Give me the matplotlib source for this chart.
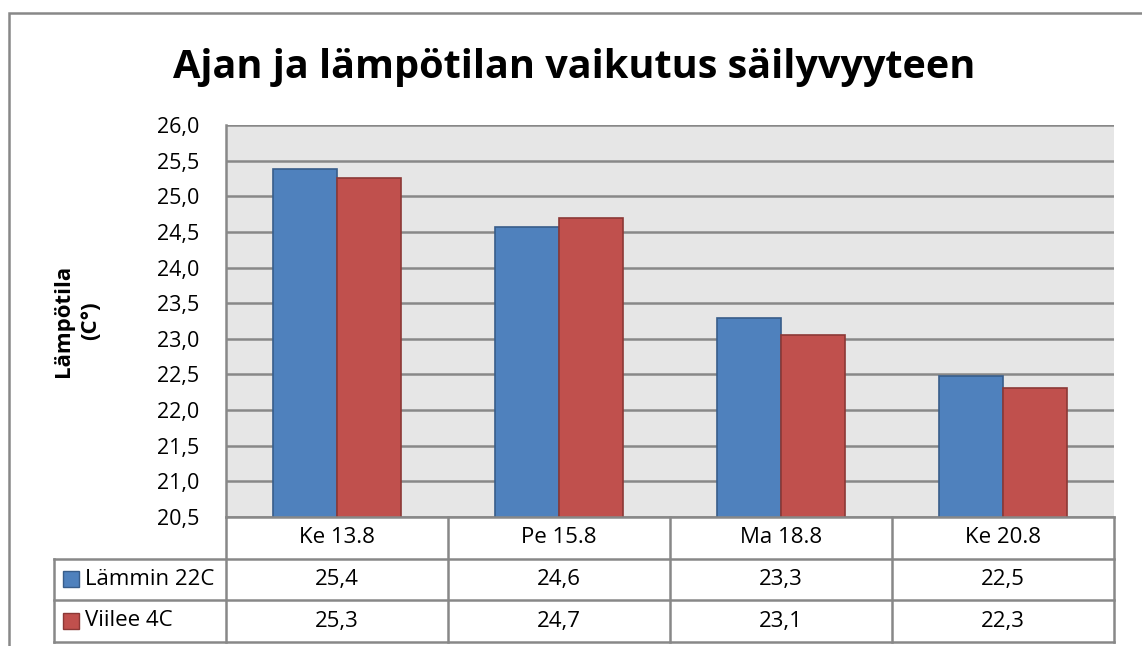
import numpy as np
import matplotlib.pyplot as plt
from matplotlib.patches import Rectangle

plt.rcParams['font.family'] = ['Open Sans', 'DejaVu Sans']

# data
categories = ["Ke 13.8", "Pe 15.8", "Ma 18.8", "Ke 20.8"]
series_names = ["Lämmin 22C", "Viilee 4C"]
lammin = [25.38, 24.57, 23.29, 22.48]
viilee = [25.26, 24.69, 23.06, 22.31]
yticks = [20.5, 21.0, 21.5, 22.0, 22.5, 23.0, 23.5, 24.0, 24.5, 25.0, 25.5, 26.0]

title = "Ajan ja lämpötilan vaikutus säilyvyyteen"
ylabel = "Lämpötila\n(C°)"

colors = ["#4F81BD", "#C0504D"]
edges = ["#385D8A", "#8C3836"]
grid_c = "#888888"

W, H = 1142, 646
fig = plt.figure(figsize=(W / 100, H / 100), dpi=100)

# pixel layout
ax_l, ax_r, ax_t, ax_b = 226, 1114, 125, 517
leg_l = 54
row_h = 41.6

ax = fig.add_axes([ax_l / W, 1 - ax_b / H, (ax_r - ax_l) / W, (ax_b - ax_t) / H])
ax.set_facecolor("#E6E6E6")
x = np.arange(len(categories))
bw = 0.288
series = [lammin, viilee]
for i, vals in enumerate(series):
    ax.bar(x + (i - 0.5) * bw, vals, width=bw, color=colors[i],
           edgecolor=edges[i], linewidth=1.2, zorder=3)
ax.set_xlim(-0.5, len(categories) - 0.5)
ax.set_ylim(yticks[0], yticks[-1])
ax.set_yticks(yticks)
ax.set_yticklabels([f"{t:.1f}".replace(".", ",") for t in yticks], fontsize=15.5)
ax.set_xticks([])
ax.tick_params(axis="y", length=0, pad=19)
ax.yaxis.grid(True, color=grid_c, linewidth=1.8, zorder=0)
ax.set_axisbelow(True)
for s in ["top", "right", "bottom"]:
    ax.spines[s].set_visible(False)
ax.spines["left"].set_color(grid_c)
ax.spines["left"].set_linewidth(1.8)

# data table below the axes
cat_w = (ax_r - ax_l) / len(categories)
leg_units = (ax_l - leg_l) / cat_w
tab_h = 3 * row_h
tab = fig.add_axes([leg_l / W, 1 - (ax_b + tab_h) / H, (ax_r - leg_l) / W, tab_h / H])
tab.set_xlim(-0.5 - leg_units, len(categories) - 0.5)
tab.set_ylim(3, 0)
tab.axis("off")
x0 = -0.5 - leg_units
x1 = len(categories) - 0.5
lk = dict(color=grid_c, linewidth=1.8, clip_on=False)
tab.plot([-0.5, x1], [0, 0], **lk)
for r in [1, 2, 3]:
    tab.plot([x0, x1], [r, r], **lk)
tab.plot([x0, x0], [1, 3], **lk)
for c in np.arange(len(categories) + 1) - 0.5:
    tab.plot([c, c], [0, 3], **lk)
for j, cat in enumerate(categories):
    tab.text(j, 0.5, cat, ha="center", va="center", fontsize=16)
for i, vals in enumerate(series):
    for j, v in enumerate(vals):
        tab.text(j, i + 1.5, f"{v:.1f}".replace(".", ","), ha="center", va="center", fontsize=16)
    sq = 16 / cat_w
    tab.add_patch(Rectangle((x0 + 9 / cat_w, i + 1.5 - 8 / row_h), sq, 16 / row_h,
                            facecolor=colors[i], edgecolor=edges[i], linewidth=1, clip_on=False))
    tab.text(x0 + 31 / cat_w, i + 1.5, series_names[i], ha="left", va="center", fontsize=16)

# title, y label, chart border
fig.text(574 / W, 1 - 78 / H, title, ha="center", va="baseline", fontsize=28.5, fontweight="bold")
fig.text(77 / W, 1 - 321 / H, ylabel, ha="center", va="center", rotation=90,
         fontsize=16, fontweight="bold", multialignment="center", linespacing=1.35)
fig.add_artist(Rectangle((9 / W, -0.05), 1.1, 1 - 13 / H + 0.05, transform=fig.transFigure,
                         facecolor="none", edgecolor=grid_c, linewidth=1.8))

fig.savefig("out.png", dpi=100)
